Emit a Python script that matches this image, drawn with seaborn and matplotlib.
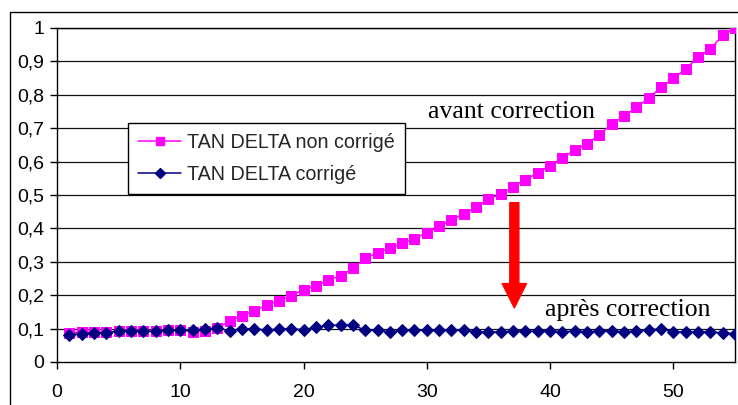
import matplotlib
matplotlib.use("Agg")
import matplotlib.pyplot as plt
import seaborn as sns
import pandas as pd
from matplotlib.patches import Rectangle, FancyArrowPatch
from matplotlib.lines import Line2D

x_vals = list(range(1, 56))
non_corrige = [0.087, 0.090, 0.090, 0.090, 0.092, 0.092, 0.092, 0.092, 0.095, 0.097,
               0.090, 0.094, 0.102, 0.122, 0.139, 0.153, 0.170, 0.184, 0.199, 0.217,
               0.227, 0.245, 0.258, 0.281, 0.310, 0.327, 0.341, 0.355, 0.369, 0.387,
               0.406, 0.425, 0.444, 0.463, 0.489, 0.502, 0.524, 0.546, 0.566, 0.588,
               0.612, 0.634, 0.654, 0.680, 0.713, 0.736, 0.763, 0.789, 0.823, 0.849,
               0.877, 0.913, 0.937, 0.978, 1.000]
corrige = [0.082, 0.085, 0.087, 0.087, 0.092, 0.092, 0.092, 0.092, 0.095, 0.095,
           0.095, 0.099, 0.101, 0.094, 0.099, 0.100, 0.095, 0.099, 0.099, 0.097,
           0.104, 0.110, 0.110, 0.111, 0.095, 0.095, 0.089, 0.095, 0.095, 0.095,
           0.095, 0.095, 0.095, 0.090, 0.090, 0.090, 0.092, 0.092, 0.092, 0.093,
           0.090, 0.093, 0.090, 0.093, 0.093, 0.090, 0.093, 0.095, 0.100, 0.090,
           0.090, 0.090, 0.090, 0.087, 0.085]
labels = ["TAN DELTA non corrigé", "TAN DELTA corrigé"]
x_ticks = [0, 10, 20, 30, 40, 50]
y_ticks = [0, 0.1, 0.2, 0.3, 0.4, 0.5, 0.6, 0.7, 0.8, 0.9, 1.0]
y_tick_labels = ["0", "0,1", "0,2", "0,3", "0,4", "0,5", "0,6", "0,7", "0,8", "0,9", "1"]

sns.set_style("white")
plt.rcParams['font.family'] = ['Liberation Sans', 'DejaVu Sans']

W, H = 738, 405
fig = plt.figure(figsize=(W / 100, H / 100), dpi=100)
ax = fig.add_axes([57 / W, 1 - 362 / H, 678 / W, 334 / H])

df = pd.DataFrame({"x": x_vals, "nc": non_corrige, "c": corrige})

pink = "#FF00FF"
navy = "#000080"

for yv in y_ticks[1:]:
    ax.axhline(yv, color="#111111", lw=0.9, zorder=1)

sns.lineplot(data=df, x="x", y="nc", ax=ax, color=pink, marker="s", markersize=6.5,
             markeredgecolor=pink, linewidth=1.1, zorder=3)
sns.lineplot(data=df, x="x", y="c", ax=ax, color=navy, marker="D", markersize=6.5,
             markeredgecolor=navy, linewidth=1.1, zorder=4)

ax.set_xlim(0, 55)
ax.set_ylim(0, 1)
ax.set_xticks(x_ticks)
ax.set_xticklabels([str(t) for t in x_ticks])
ax.set_yticks(y_ticks)
ax.set_yticklabels(y_tick_labels)
ax.set_xlabel("")
ax.set_ylabel("")
ax.tick_params(axis="both", which="major", direction="out", length=5, width=1,
               color="black", labelsize=14, labelcolor="black", pad=4,
               bottom=True, left=True)
ax.tick_params(axis="x", pad=11)
for s in ax.spines.values():
    s.set_color("black")
    s.set_linewidth(1)

handles = [Line2D([], [], color=pink, marker="s", markersize=5.5, lw=1.1),
           Line2D([], [], color=navy, marker="D", markersize=5, lw=1.1)]
leg = ax.legend(handles, labels, loc="upper left", bbox_to_anchor=(0.1047, 0.7156),
                borderaxespad=0, fontsize=14.2, frameon=True, fancybox=False,
                framealpha=1, edgecolor="black", handlelength=2.2,
                handletextpad=0.3, labelspacing=0.65, borderpad=0.5)
leg.get_frame().set_linewidth(1)

serif = ['Liberation Serif', 'DejaVu Serif']
ax.text(36.9, 0.731, "avant correction", family=serif, fontsize=18.5,
        ha="center", va="baseline", color="black", zorder=5)
ax.text(46.3, 0.138, "après correction", family=serif, fontsize=18.5,
        ha="center", va="baseline", color="black", zorder=5)

arrow = FancyArrowPatch((37.1, 0.477), (37.1, 0.162),
                        arrowstyle="simple,head_length=1.75,head_width=1.75,tail_width=0.65",
                        mutation_scale=10, color="#FF0000", shrinkA=0, shrinkB=0, zorder=6)
ax.add_patch(arrow)

fig.add_artist(Rectangle((10 / W, -0.1), 1.2, (H - 12) / H + 0.1,
                         transform=fig.transFigure, fill=False,
                         edgecolor="black", lw=1))

fig.savefig("out.png", dpi=100)
